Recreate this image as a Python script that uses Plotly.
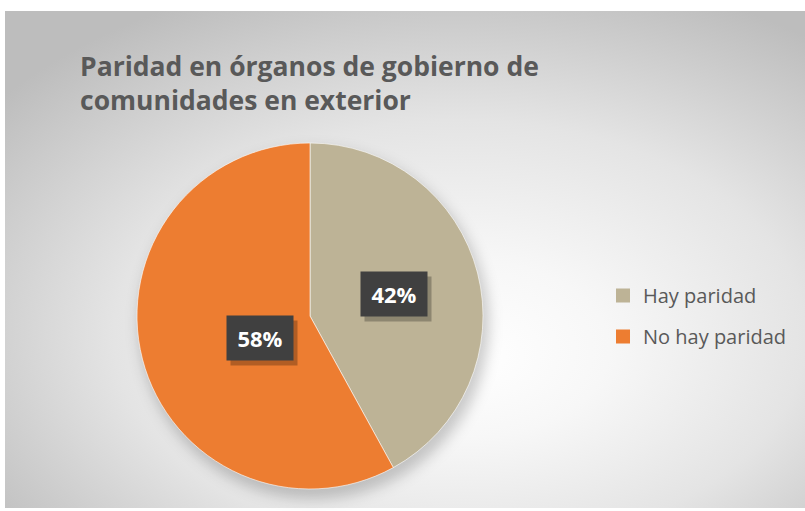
import base64
import math
import plotly.graph_objects as go

labels = ["Hay paridad", "No hay paridad"]
values = [42, 58]
colors = ["#BDB396", "#ED7D31"]
title_lines = ["Paridad en órganos de gobierno de", "comunidades en exterior"]

W, H = 805, 511

# pie placement in pixels (domain)
pie_left, pie_right, pie_top, pie_bottom = 137, 483, 143, 489
cx = (pie_left + pie_right) / 2
cy = (pie_top + pie_bottom) / 2
r = (pie_right - pie_left) / 2

# background: radial gradient card with pie shadow
bg_svg = f'''<svg xmlns="http://www.w3.org/2000/svg" width="{W}" height="{H}" viewBox="0 0 {W} {H}">
<defs>
<radialGradient id="g" cx="0.56" cy="0.62" r="0.72" fx="0.58" fy="0.7">
<stop offset="0" stop-color="#ffffff"/>
<stop offset="0.25" stop-color="#f7f7f7"/>
<stop offset="0.6" stop-color="#e4e4e4"/>
<stop offset="1" stop-color="#bdbdbd"/>
</radialGradient>
<filter id="b" x="-30%" y="-30%" width="160%" height="160%"><feGaussianBlur stdDeviation="7"/></filter>
</defs>
<rect x="0" y="0" width="{W}" height="{H}" fill="#ffffff"/>
<rect x="5" y="11" width="{W-5}" height="{H-14}" fill="url(#g)"/>
<ellipse cx="{cx+4}" cy="{cy+8}" rx="{r+2}" ry="{r+2}" fill="#000000" fill-opacity="0.2" filter="url(#b)"/>
</svg>'''
bg_uri = "data:image/svg+xml;base64," + base64.b64encode(bg_svg.encode()).decode()

fig = go.Figure()
fig.add_trace(go.Pie(
    labels=labels, values=values, sort=False, direction="clockwise", rotation=0,
    marker=dict(colors=colors, line=dict(color="rgba(255,255,255,0.6)", width=1)),
    textinfo="none", hoverinfo="label+percent", showlegend=False,
    domain=dict(x=[pie_left / W, pie_right / W], y=[1 - pie_bottom / H, 1 - pie_top / H]),
))

# legend entries
for lab, col in zip(labels, colors):
    fig.add_trace(go.Scatter(x=[None], y=[None], mode="markers", name=lab,
                             marker=dict(symbol="square", size=14, color=col),
                             legendgroup=lab, showlegend=True, hoverinfo="skip"))

# data labels computed from values
total = sum(values)
cum = 0
annotations = []
for v in values:
    mid = (cum + v / 2) / total * 2 * math.pi
    cum += v
    px = cx + 0.5 * r * math.sin(mid)
    py = cy - 0.5 * r * math.cos(mid)
    txt = f"{round(v / total * 100)}%"
    # shadow
    annotations.append(dict(x=px / W, y=1 - py / H, xref="paper", yref="paper", text=" ",
                            showarrow=False, width=64, height=42, bgcolor="rgba(0,0,0,0.25)",
                            xshift=4, yshift=-5, font=dict(size=22)))
    annotations.append(dict(x=px / W, y=1 - py / H, xref="paper", yref="paper",
                            text=f"<b>{txt}</b>", showarrow=False, width=64, height=42,
                            bgcolor="#404040",
                            font=dict(family="Open Sans, sans-serif", size=22, color="#ffffff")))

annotations.append(dict(x=78 / W, y=1 - 46 / H, xref="paper", yref="paper", xanchor="left", yanchor="top",
                        align="left", showarrow=False,
                        text="<b>" + "<br>".join(title_lines) + "</b>",
                        font=dict(family="Open Sans, sans-serif", size=26.5, color="#595959")))

fig.update_layout(
    width=W, height=H, margin=dict(l=0, r=0, t=0, b=0),
    paper_bgcolor="rgba(0,0,0,0)", plot_bgcolor="rgba(0,0,0,0)",
    xaxis=dict(visible=False), yaxis=dict(visible=False),
    images=[dict(source=bg_uri, xref="paper", yref="paper", x=0, y=1, sizex=1, sizey=1,
                 xanchor="left", yanchor="top", sizing="stretch", layer="below")],
    annotations=annotations,
    showlegend=True,
    legend=dict(x=603 / W, y=1 - 276 / H, xanchor="left", yanchor="top",
                bgcolor="rgba(0,0,0,0)", tracegroupgap=12,
                font=dict(family="Open Sans, sans-serif", size=20, color="#595959")),
)

fig.write_html("out.html", config={"displayModeBar": False},
               post_script="document.body.style.margin='0';document.body.style.overflow='hidden';")
